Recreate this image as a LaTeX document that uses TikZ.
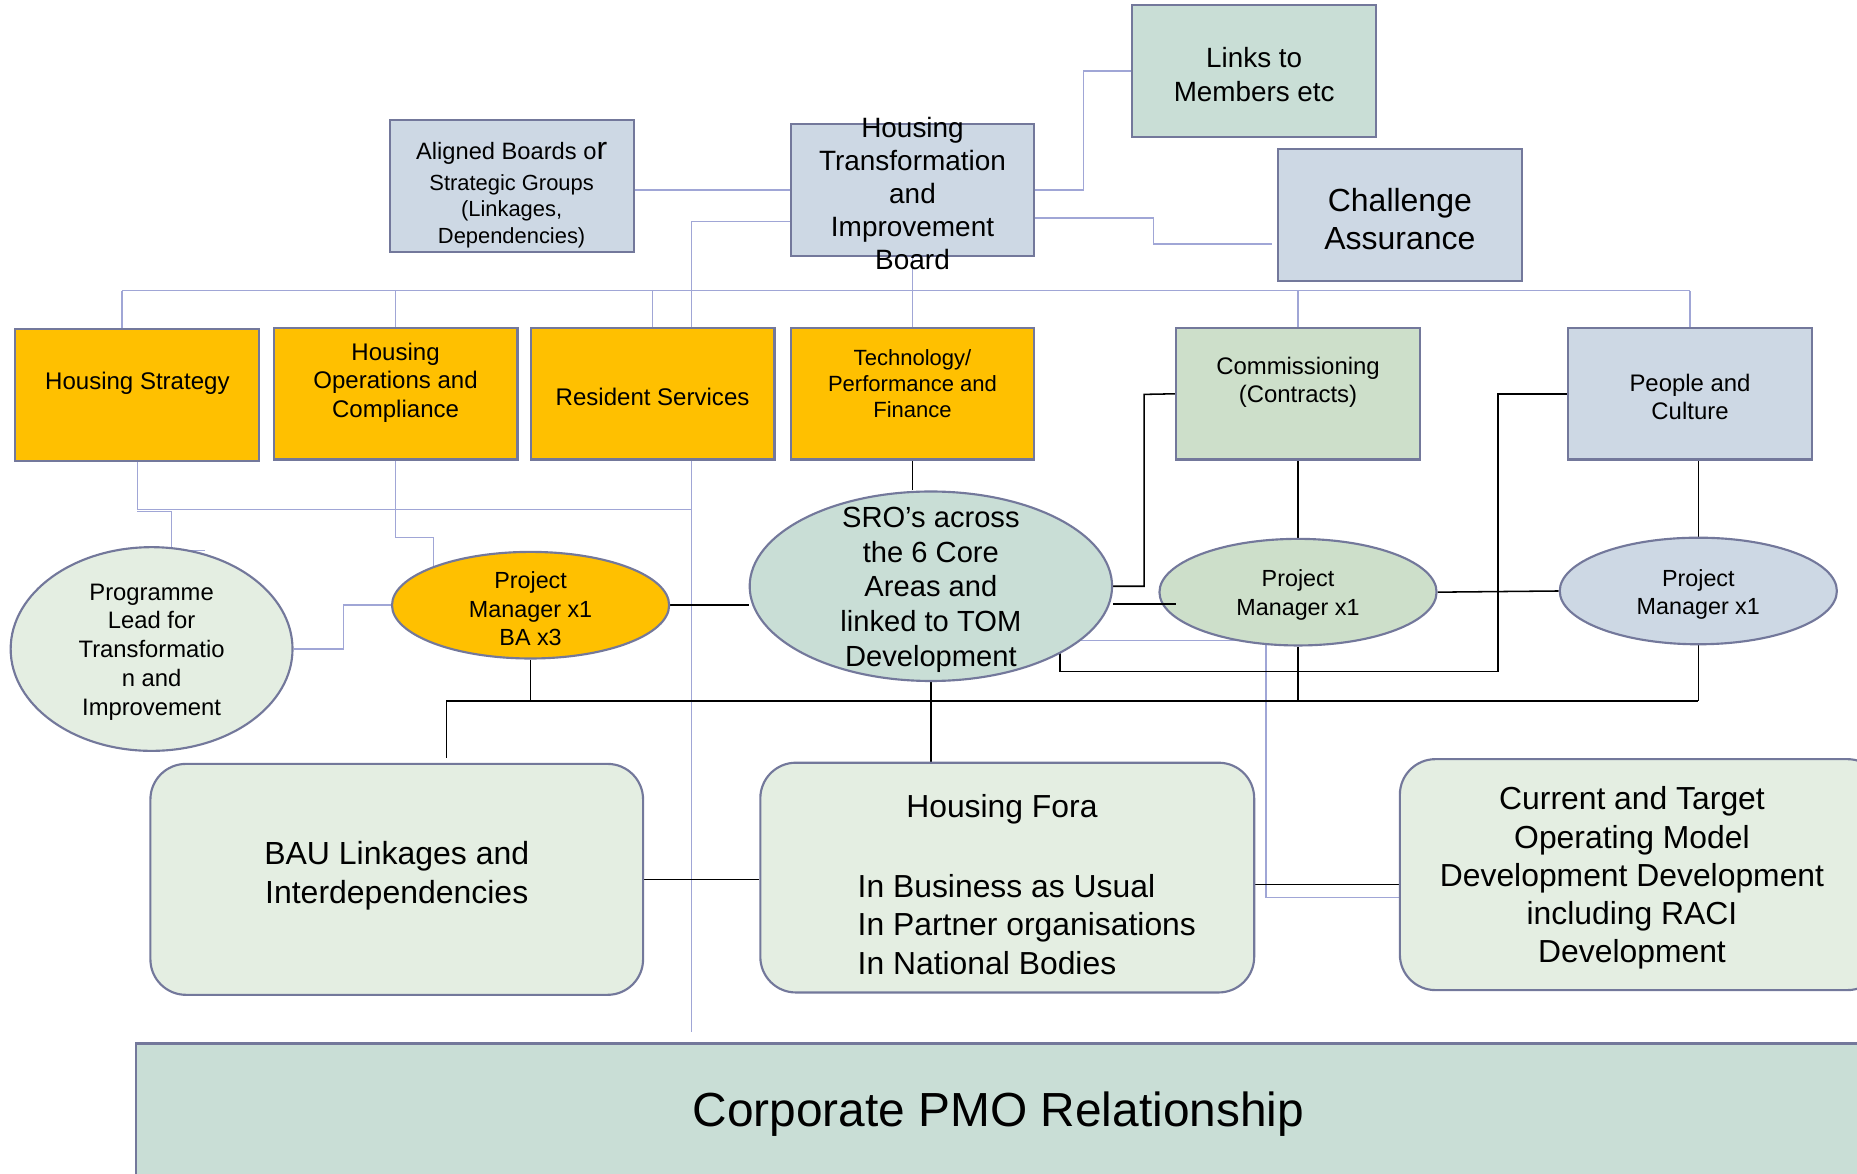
\documentclass[tikz,border=0pt]{standalone}
\usepackage{fontspec}
\setmainfont{Liberation Sans}
\usetikzlibrary{shapes.geometric,calc}
\pgfdeclarelayer{background}
\pgfsetlayers{background,main}
\definecolor{bord}{RGB}{115,120,155}
\definecolor{lnkc}{RGB}{160,166,214}
\definecolor{orng}{RGB}{255,192,0}
\definecolor{bgray}{RGB}{205,216,228}
\definecolor{tealc}{RGB}{201,222,214}
\definecolor{grn}{RGB}{205,223,202}
\definecolor{lgrn}{RGB}{228,238,226}
\newcommand{\fsz}[2]{\fontsize{#1}{#2}\selectfont}
\begin{document}
\begin{tikzpicture}[x=1pt,y=-1pt,
 box/.style={draw=bord,line width=1.8pt,inner sep=0pt,minimum width=206pt,minimum height=111pt},
 ell/.style={ellipse,draw=bord,line width=1.8pt,inner sep=0pt,minimum width=234pt,minimum height=90pt},
 rbox/.style={draw=bord,line width=1.8pt,rounded corners=30pt,inner sep=0pt},
 txt/.style={align=center,inner sep=0pt,text=black,yshift=-2pt},
 lnk/.style={draw=lnkc,line width=1.2pt},
 blk/.style={draw=black,line width=1.3pt}]
\useasboundingbox (0,0) rectangle (1568,991);
\clip (0,0) rectangle (1568,991);

% top boxes
\node[box,fill=tealc] (links) at (1059,60) {};
\node[box,fill=bgray] (ab) at (432,157) {};
\node[box,fill=bgray,minimum width=205pt] (htib) at (770.5,160.5) {};
\node[box,fill=bgray] (ca) at (1182,181.5) {};
% second row
\node[box,fill=orng] (hs) at (116,333.5) {};
\node[box,fill=orng] (hoc) at (334,332.5) {};
\node[box,fill=orng] (rs) at (551,332.5) {};
\node[box,fill=orng,minimum width=205pt] (tech) at (770.5,332.5) {};
\node[box,fill=grn] (comm) at (1096,332.5) {};
\node[box,fill=bgray] (pc) at (1427,332.5) {};
% ellipses
\node[ell,fill=lgrn,minimum width=238pt,minimum height=172pt] (prog) at (128,548) {};
\node[ell,fill=orng] (pmo) at (448,511) {};
\node[ell,fill=tealc,minimum width=306pt,minimum height=160pt] (sro) at (786,495) {};
\node[ell,fill=grn] (pmg) at (1096,500) {};
\node[ell,fill=bgray] (pmb) at (1434,499) {};
% rounded boxes
\node[rbox,fill=lgrn,minimum width=416pt,minimum height=195pt] (bau) at (335,742.5) {};
\node[rbox,fill=lgrn,minimum width=417pt,minimum height=194pt] (fora) at (850.5,741) {};
\node[rbox,fill=lgrn,minimum width=408pt,minimum height=195pt] (cur) at (1386,738.5) {};
% corporate PMO
\node[draw=bord,line width=2pt,fill=tealc,minimum width=1500pt,minimum height=140pt,inner sep=0pt,anchor=north west] (pmor) at (114,880) {};

% texts
\node[txt,font=\fsz{23.5}{28}] (links-t) at (1059,61) {Links to\\Members etc};
\node[txt,font=\fsz{18.5}{22.5}] (ab-t) at (432,163) {{\fsz{20}{24}Aligned Boards o}{\fsz{27}{28}r}\\[3pt]Strategic Groups\\(Linkages,\\Dependencies)};
\node[txt,font=\fsz{23.6}{28}] (htib-t) at (770.5,161.5) {Housing\\Transformation\\and\\Improvement\\Board};
\node[txt,font=\fsz{27}{32}] (ca-t) at (1182,183) {Challenge\\Assurance};
\node[txt,font=\fsz{20.3}{24}] (hs-t) at (116,322) {Housing Strategy};
\node[txt,font=\fsz{20.3}{24}] (hoc-t) at (334,321) {Housing\\Operations and\\Compliance};
\node[txt,font=\fsz{20.3}{24}] (rs-t) at (551,333) {Resident Services};
\node[txt,font=\fsz{18.6}{22}] (tech-t) at (770.5,322) {Technology/\\Performance and\\Finance};
\node[txt,font=\fsz{20.2}{24}] (comm-t) at (1096,321) {Commissioning\\(Contracts)};
\node[txt,font=\fsz{20.2}{24}] (pc-t) at (1427,333) {People and\\Culture};
\node[txt,font=\fsz{20.1}{24.3}] (prog-t) at (128,548.5) {Programme\\Lead for\\Transformatio\\n and\\Improvement};
\node[txt,font=\fsz{19.7}{24}] (pmo-t) at (448,512) {Project\\Manager x1\\BA x3};
\node[txt,font=\fsz{24.6}{29.5}] (sro-t) at (786,496) {SRO’s across\\the 6 Core\\Areas and\\linked to TOM\\Development};
\node[txt,font=\fsz{19.7}{24}] (pmg-t) at (1096,500.5) {Project\\Manager x1};
\node[txt,font=\fsz{19.7}{24}] (pmb-t) at (1434,500) {Project\\Manager x1};
\node[txt,font=\fsz{27}{33}] (bau-t) at (335,737.5) {BAU Linkages and\\Interdependencies};
\node[txt,font=\fsz{26.9}{32.5}] (fora-t) at (846,681) {Housing Fora};
\node[txt,font=\fsz{26.9}{32.5},align=left,anchor=west] (fora-l) at (724,778.5) {In Business as Usual\\In Partner organisations\\In National Bodies};
\node[txt,font=\fsz{26.9}{32.3}] (cur-t) at (1378,739.5) {Current and Target\\Operating Model\\Development Development\\including RACI\\Development};
\node[txt,font=\fsz{40.4}{48}] (pmor-t) at (843,939) {Corporate PMO Relationship};

% connector on main layer (over the ellipse)
\coordinate (s2) at (993,510);
\draw[blk] (s2 -| sro.east) -- (s2);

\begin{pgfonlayer}{background}
\fill[white] (0,0) rectangle (1568,991);
% light connectors
\draw[lnk] (ab.east |- htib.west) -- (htib.west);
\coordinate (c1) at (584,187);
\coordinate (c1b) at (584,871);
\draw[lnk] (c1 -| htib.west) -- (c1) -- (c1b);
\coordinate (k1) at (915,60);
\draw[lnk] (htib.east) -| (k1) -- (links.west);
\coordinate (k2) at (974,184);
\coordinate (k3) at (974,206);
\draw[lnk] (k2 -| htib.east) -- (k2) -- (k3) -- ($(k3 -| ca.west)+(-4,0)$);
\coordinate (bl) at (103,245.5);
\coordinate (br) at (1427,245.5);
\draw[lnk] (bl) -- (br);
\draw[lnk] (bl) -- (bl |- hs.north);
\draw[lnk] (hoc.north |- bl) -- (hoc.north);
\draw[lnk] (rs.north |- bl) -- (rs.north);
\draw[lnk] (htib.south) -- (tech.north);
\draw[lnk] (comm.north |- bl) -- (comm.north);
\draw[lnk] (br) -- (pc.north);
\coordinate (m1) at (116,430);
\draw[lnk] (hs.south) -- (m1) -- (m1 -| c1);
\coordinate (p1) at (116,432);
\coordinate (p2) at (145,465);
\coordinate (p3) at (173,465);
\draw[lnk] (p1) -| (p2) -- (p3);
\coordinate (q1) at (334,454);
\coordinate (q2) at (366,454);
\coordinate (q3) at (366,479);
\draw[lnk] (hoc.south) -- (q1) -- (q2) -- (q3);
\coordinate (r1) at (290,511);
\draw[lnk] (prog.east) -| (r1) -- (pmo.west);
\coordinate (w1) at (908,541);
\coordinate (w2) at (1069,758);
\draw[lnk] (w1) -| (w2) -- (w2 -| cur.west);
% black connectors
\draw[blk] (pmo.east) -- (pmo.east -| sro.west);
\draw[blk] (tech.south) -- (tech.south |- sro.north);
\coordinate (s1) at (966,333);
\draw[blk] (sro.east) -| (s1) -- (comm.west);
\draw[blk] (comm.south) -- (pmg.north);
\draw[blk] (pmg.east) -- (pmb.west);
\draw[blk] (pmb.north |- pc.south) -- (pmb.north);
\coordinate (t1) at (895,545);
\coordinate (t2) at (1265,567);
\draw[blk] (t1) |- (t2) -- (t2 |- pc.west) -- (pc.west);
\coordinate (u1) at (377,592);
\coordinate (u2) at (1434,592);
\draw[blk] (u1) -- (u2);
\draw[blk] (pmo.south) -- (pmo.south |- u1);
\draw[blk] (pmg.south) -- (pmg.south |- u1);
\draw[blk] (pmb.south) -- (u2);
\coordinate (u3) at (377,640);
\draw[blk] (u1) -- (u3);
\draw[blk] (sro.south) -- (sro.south |- fora.north);
\draw[blk] (bau.east) -- (bau.east -| fora.west);
\coordinate (v1) at (1182,747);
\draw[blk] (v1 -| fora.east) -- (v1);
\end{pgfonlayer}
\end{tikzpicture}
\end{document}
